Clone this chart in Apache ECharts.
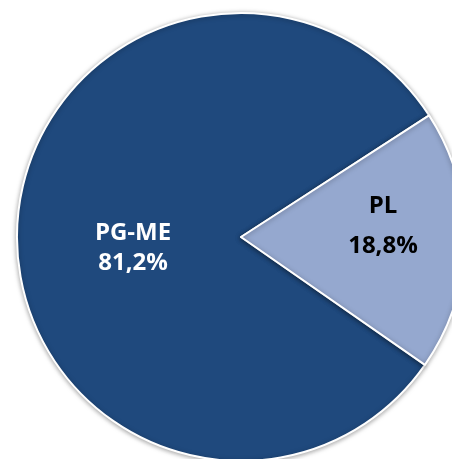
<!DOCTYPE html>
<html>
<head>
<meta charset="utf-8">
<script src="https://cdn.jsdelivr.net/npm/echarts@6/dist/echarts.min.js"></script>
<style>
html,body{margin:0;padding:0;background:#fff;}
#chart{width:452px;height:459px;}
</style>
</head>
<body>
<div id="chart"></div>
<script>
var categories = ['PG-ME', 'PL'];
var values = [81.2, 18.8];
var valueLabels = ['81,2%', '18,8%'];

var colors = ['#1F497D', '#95A8CF'];
var textColors = ['#ffffff', '#000000'];
var labelOffsets = [[7, 13], [27, -13]];
var lineHeights = [30, 40];

var chart = echarts.init(document.getElementById('chart'), null, {renderer: 'canvas'});
chart.setOption({
  animation: false,
  series: [{
    type: 'pie',
    center: [241, 237],
    radius: 224,
    startAngle: 325.2,
    clockwise: true,
    avoidLabelOverlap: false,
    label: {
      show: true,
      position: 'inside',
      fontFamily: 'Open Sans',
      fontWeight: 'bold',
      fontSize: 24
    },
    labelLine: {show: false},
    emphasis: {disabled: true},
    itemStyle: {
      borderColor: '#ffffff',
      borderWidth: 2,
      shadowBlur: 5,
      shadowOffsetY: 1,
      shadowColor: 'rgba(0,0,0,0.35)'
    },
    data: categories.map(function (c, i) {
      return {
        name: c,
        value: values[i],
        itemStyle: {color: colors[i]},
        label: {
          formatter: c + '\n' + valueLabels[i],
          color: textColors[i],
          lineHeight: lineHeights[i],
          offset: labelOffsets[i]
        }
      };
    })
  }]
});
</script>
</body>
</html>
